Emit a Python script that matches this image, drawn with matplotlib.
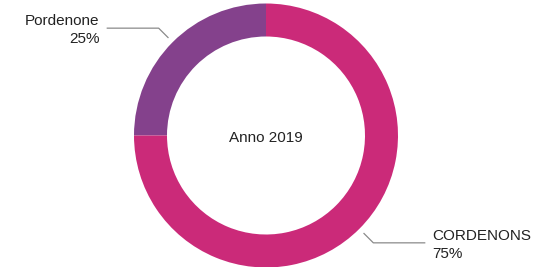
import numpy as np
import matplotlib
matplotlib.use("Agg")
import matplotlib.pyplot as plt

plt.rcParams['font.family'] = ['Liberation Sans', 'DejaVu Sans']

labels = ["Pordenone", "CORDENONS"]
shares = [25, 75]
colors = ["#84418C", "#CB2A79"]
center_text = "Anno 2019"

W, H = 553, 267
fig = plt.figure(figsize=(W / 100, H / 100), dpi=100)
ax = fig.add_axes([0, 0, 1, 1])

cx, cy, R = 266, 131.5, 132
wedges, _ = ax.pie(shares, colors=colors, startangle=90, counterclock=True,
                   radius=R, center=(cx, cy), frame=True,
                   wedgeprops=dict(width=R * 0.25, linewidth=0))
ax.set_xlim(0, W)
ax.set_ylim(0, H)
ax.set_aspect("equal")
ax.axis("off")

ax.text(cx, cy - 2, center_text, ha="center", va="center", fontsize=11, color="#222222")

# leader lines go out radially from the middle of each wedge, then flat
for w, lab, sh in zip(wedges, labels, shares):
    ang = np.deg2rad((w.theta1 + w.theta2) / 2)
    x0, y0 = cx + 1.045 * R * np.cos(ang), cy + 1.045 * R * np.sin(ang)
    x1, y1 = cx + 1.15 * R * np.cos(ang), cy + 1.15 * R * np.sin(ang)
    side = np.sign(np.cos(ang))
    x2 = x1 + side * 52
    ax.plot([x0, x1, x2], [y0, y1, y1], color="#8a8a8a", lw=0.9, solid_capstyle="butt")
    ax.text(x2 + side * 7, y1 - 2, f"{lab}\n{sh}%", ha="left" if side > 0 else "right",
            va="center", fontsize=11, color="#222222", linespacing=1.4,
            multialignment="left" if side > 0 else "right")

fig.savefig("out.png", dpi=100)
